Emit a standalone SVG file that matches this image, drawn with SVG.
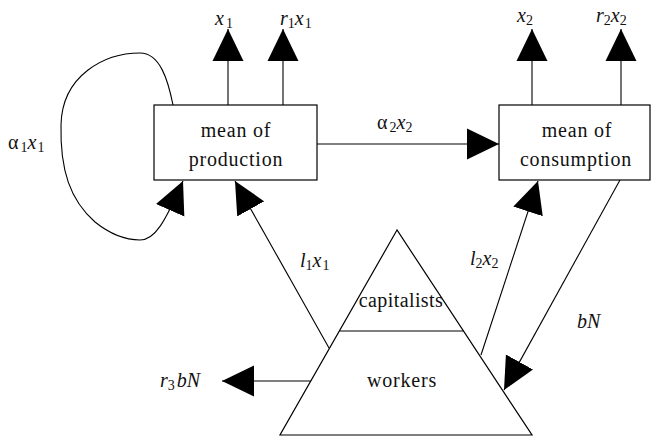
<svg xmlns="http://www.w3.org/2000/svg" width="652" height="437" viewBox="0 0 652 437">
<defs>
<marker id="ah" markerUnits="userSpaceOnUse" markerWidth="32" markerHeight="32" viewBox="0 0 31 30" refX="31" refY="15" orient="auto">
<path d="M0,0 L31,15 L0,30 z" fill="#000"/>
</marker>
</defs>
<g id="connectors" fill="none" stroke="#000" stroke-width="1.1">
<line x1="228" y1="105" x2="228" y2="29" marker-end="url(#ah)"/>
<line x1="283" y1="105" x2="283" y2="29" marker-end="url(#ah)"/>
<line x1="532" y1="105" x2="532" y2="29" marker-end="url(#ah)"/>
<line x1="621" y1="105" x2="621" y2="29" marker-end="url(#ah)"/>
<line x1="317" y1="144" x2="499" y2="144" marker-end="url(#ah)"/>
<path d="M173,105 C168,80 160,53 140,53 C105,53 62,75 61,125 C60,170 70,200 95,222 C115,238 130,240 140,240 C155,240 165,222 183,181" marker-end="url(#ah)"/>
<line x1="329" y1="348" x2="235" y2="181" marker-end="url(#ah)"/>
<line x1="481" y1="355" x2="538" y2="181" marker-end="url(#ah)"/>
<line x1="620" y1="180" x2="504" y2="390" marker-end="url(#ah)"/>
<line x1="311" y1="381" x2="222" y2="381" marker-end="url(#ah)"/>
</g>
<g id="labels" font-family="Times New Roman, Liberation Serif, serif" font-size="20" fill="#111" stroke="none">
<text font-family="Times New Roman, Liberation Serif, serif" x="215" y="25"><tspan font-style="italic">x</tspan><tspan font-size="14" dx="2" dy="3">1</tspan></text>
<text font-family="Times New Roman, Liberation Serif, serif" x="280" y="25"><tspan font-style="italic">r</tspan><tspan font-size="14" dy="3">1</tspan><tspan font-style="italic" dy="-3">x</tspan><tspan font-size="14" dx="1" dy="3">1</tspan></text>
<text font-family="Times New Roman, Liberation Serif, serif" x="517" y="22"><tspan font-style="italic">x</tspan><tspan font-size="14" dy="3">2</tspan></text>
<text font-family="Times New Roman, Liberation Serif, serif" x="596" y="22"><tspan font-style="italic">r</tspan><tspan font-size="14" dy="3">2</tspan><tspan font-style="italic" dy="-3">x</tspan><tspan font-size="14" dy="3">2</tspan></text>
<text font-family="Times New Roman, Liberation Serif, serif" x="377" y="129">&#945;<tspan font-size="14" dx="2" dy="3">2</tspan><tspan font-style="italic" dy="-3">x</tspan><tspan font-size="14" dy="3">2</tspan></text>
<text font-family="Times New Roman, Liberation Serif, serif" x="8" y="149">&#945;<tspan font-size="14" dx="2" dy="3">1</tspan><tspan font-style="italic" dy="-3">x</tspan><tspan font-size="14" dx="1" dy="3">1</tspan></text>
<text font-family="Times New Roman, Liberation Serif, serif" x="300" y="267"><tspan font-style="italic">l</tspan><tspan font-size="14" dy="3">1</tspan><tspan font-style="italic" dy="-3">x</tspan><tspan font-size="14" dx="1" dy="3">1</tspan></text>
<text font-family="Times New Roman, Liberation Serif, serif" x="470" y="265"><tspan font-style="italic">l</tspan><tspan font-size="14" dy="3">2</tspan><tspan font-style="italic" dy="-3">x</tspan><tspan font-size="14" dy="3">2</tspan></text>
<text font-family="Times New Roman, Liberation Serif, serif" font-style="italic" x="577" y="328">bN</text>
<text font-family="Times New Roman, Liberation Serif, serif" x="160" y="387"><tspan font-style="italic">r</tspan><tspan font-size="14" dy="3">3</tspan><tspan font-style="italic" dx="2" dy="-3">bN</tspan></text>
</g>
<g id="production">
<rect x="154" y="105" width="163" height="75" fill="#fff" stroke="#000" stroke-width="1.2"/>
<text font-family="Times New Roman, Liberation Serif, serif" font-size="20" fill="#111" letter-spacing="0.8" text-anchor="middle" x="236" y="137">mean of</text>
<text font-family="Times New Roman, Liberation Serif, serif" font-size="20" fill="#111" letter-spacing="0.8" text-anchor="middle" x="236" y="166">production</text>
</g>
<g id="consumption">
<rect x="499" y="105" width="151" height="75" fill="#fff" stroke="#000" stroke-width="1.2"/>
<text font-family="Times New Roman, Liberation Serif, serif" font-size="20" fill="#111" letter-spacing="0.8" text-anchor="middle" x="577" y="137">mean of</text>
<text font-family="Times New Roman, Liberation Serif, serif" font-size="20" fill="#111" letter-spacing="0.8" text-anchor="middle" x="576" y="166">consumption</text>
</g>
<g id="society">
<polygon points="397,230 280,435 532,435" fill="#fff" stroke="#000" stroke-width="1.2"/>
<line x1="339.5" y1="331" x2="463.5" y2="331" stroke="#000" stroke-width="1.1"/>
<text font-family="Times New Roman, Liberation Serif, serif" font-size="20" fill="#111" letter-spacing="0.4" text-anchor="middle" x="401" y="307">capitalists</text>
<text font-family="Times New Roman, Liberation Serif, serif" font-size="20" fill="#111" letter-spacing="0.8" text-anchor="middle" x="402" y="387">workers</text>
</g>
</svg>
